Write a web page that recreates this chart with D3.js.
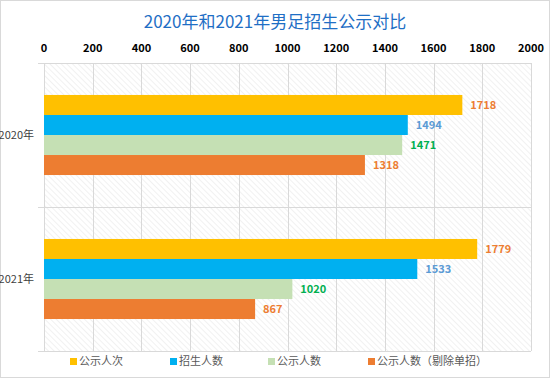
<!DOCTYPE html>
<meta charset="utf-8">
<style>
body { margin: 0; background: #fff; }
svg { display: block; font-family: "Noto Sans CJK SC", "Noto Sans", sans-serif; }
</style>
<svg width="550" height="378"></svg>
<script src="https://d3js.org/d3.v7.min.js"></script>
<script>
var years = ["2020年", "2021年"];
var seriesNames = ["公示人次", "招生人数", "公示人数", "公示人数（剔除单招）"];
var values2020 = [1718, 1494, 1471, 1318];
var values2021 = [1779, 1533, 1020, 867];
var xTicks = [0, 200, 400, 600, 800, 1000, 1200, 1400, 1600, 1800, 2000];

var colors = ["#FFC000", "#00B0F0", "#C5E0B4", "#ED7D31"];
var labelColors = ["#ED7D31", "#5B9BD5", "#00B050", "#ED7D31"];

var svg = d3.select("svg");
var margin = {top: 63, right: 19, bottom: 27, left: 44};
var width = 550 - margin.left - margin.right,
    height = 378 - margin.top - margin.bottom;

// frame
svg.append("rect").attr("x", 0.5).attr("y", 0.5).attr("width", 549).attr("height", 377)
  .attr("fill", "#fff").attr("stroke", "#d9d9d9");

// hatch pattern
var defs = svg.append("defs");
var pat = defs.append("pattern").attr("id", "hatch").attr("patternUnits", "userSpaceOnUse")
  .attr("width", 4).attr("height", 4).attr("patternTransform", "rotate(45)");
pat.append("rect").attr("width", 4).attr("height", 4).attr("fill", "#fff");
pat.append("line").attr("x1", 0).attr("y1", 0).attr("x2", 4).attr("y2", 0)
  .attr("stroke", "#ececec").attr("stroke-width", 1.4);

var x = d3.scaleLinear().domain([0, 2000]).range([0, width]);
var y = d3.scaleBand().domain(years).range([0, height]);
var inner = d3.scaleBand().domain(d3.range(4)).range([y.bandwidth() * 0.222, y.bandwidth() * 0.778]);

var g = svg.append("g").attr("transform", "translate(" + margin.left + "," + margin.top + ")");

g.append("rect").attr("width", width).attr("height", height).attr("fill", "url(#hatch)");

// grid
g.selectAll(".vgrid").data(xTicks).enter().append("line")
  .attr("x1", function(d) { return Math.round(x(d)) + 0.5; })
  .attr("x2", function(d) { return Math.round(x(d)) + 0.5; })
  .attr("y1", 0).attr("y2", height)
  .attr("stroke", "#d9d9d9");
g.selectAll(".hgrid").data([0, y.bandwidth(), height]).enter().append("line")
  .attr("x1", -6).attr("x2", width)
  .attr("y1", function(d) { return Math.round(d) + 0.5; })
  .attr("y2", function(d) { return Math.round(d) + 0.5; })
  .attr("stroke", "#d9d9d9");

// top axis labels
g.selectAll(".tick").data(xTicks).enter().append("text")
  .attr("x", function(d) { return x(d); })
  .attr("y", -11)
  .attr("text-anchor", "middle")
  .attr("font-size", 11).attr("font-weight", "bold").attr("fill", "#000")
  .text(function(d) { return d; });

// categories
g.selectAll(".cat").data(years).enter().append("text")
  .attr("x", -10)
  .attr("y", function(d) { return y(d) + y.bandwidth() / 2 + 4; })
  .attr("text-anchor", "end")
  .attr("font-size", 11).attr("fill", "#404040")
  .text(function(d) { return d; });

var data = [values2020, values2021];
years.forEach(function(yr, yi) {
  var grp = g.append("g").attr("transform", "translate(0," + y(yr) + ")");
  grp.selectAll("rect").data(data[yi]).enter().append("rect")
    .attr("x", 0)
    .attr("y", function(d, i) { return inner(i); })
    .attr("width", function(d) { return x(d); })
    .attr("height", inner.bandwidth())
    .attr("fill", function(d, i) { return colors[i]; });
  grp.selectAll("text").data(data[yi]).enter().append("text")
    .attr("x", function(d) { return x(d) + 8; })
    .attr("y", function(d, i) { return inner(i) + inner.bandwidth() / 2 + 4; })
    .attr("font-size", 11).attr("font-weight", "bold")
    .attr("fill", function(d, i) { return labelColors[i]; })
    .text(function(d) { return d; });
});

// title
svg.append("text").attr("x", 275).attr("y", 28).attr("text-anchor", "middle")
  .attr("font-size", 17).attr("fill", "#1F6FC5")
  .text("2020年和2021年男足招生公示对比");

// legend
var legendX = [70, 170, 268, 368];
var lg = svg.selectAll(".leg").data(seriesNames).enter().append("g")
  .attr("transform", function(d, i) { return "translate(" + legendX[i] + ",365)"; });
lg.append("rect").attr("x", 0).attr("y", -7).attr("width", 7).attr("height", 7)
  .attr("fill", function(d, i) { return colors[i]; });
lg.append("text").attr("x", 9).attr("y", 0).attr("font-size", 11).attr("fill", "#595959")
  .text(function(d) { return d; });
</script>
